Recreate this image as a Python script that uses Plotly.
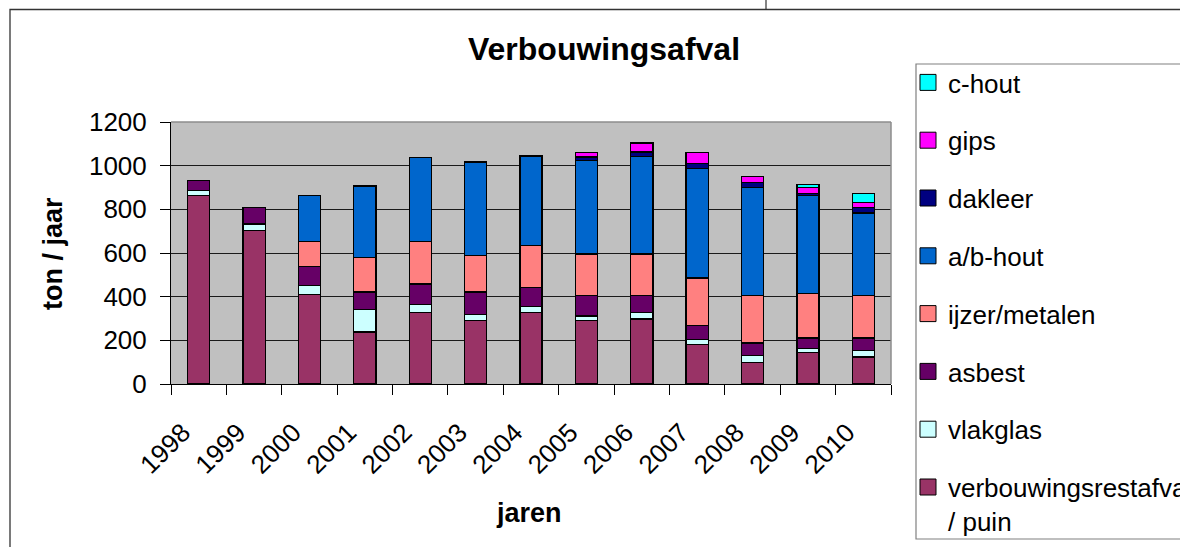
import plotly.graph_objects as go

# ---------------- data ----------------
years = ["1998", "1999", "2000", "2001", "2002", "2003", "2004",
         "2005", "2006", "2007", "2008", "2009", "2010"]

puin      = [863, 702, 411, 238, 327, 290, 327, 290, 298, 180,  99, 143, 124]
vlakglas  = [ 24,  31,  39, 102,  36,  29,  29,  21,  30,  23,  31,  20,  29]
asbest    = [ 44,  75,  89,  81,  95, 102,  87,  95,  78,  64,  58,  48,  58]
ijzer     = [None, None, 113, 159, 194, 167, 191, 190, 190, 219, 216, 203, 193]
abhout    = [None, None, 212, 327, 386, 429, 410, 427, 447, 502, 495, 449, 379]
dakleer   = [None, None, None, None, None, None, None, 17, 20, 21, 25,  9, 25]
gips      = [None, None, None, None, None, None, None, 20, 41, 52, 27, 27, 22]
chout     = [None, None, None, None, None, None, None, None, None, None, None, 16, 42]

series_names = ["verbouwingsrestafval<br>/ puin", "vlakglas", "asbest",
                "ijzer/metalen", "a/b-hout", "dakleer", "gips", "c-hout"]
series_values = [puin, vlakglas, asbest, ijzer, abhout, dakleer, gips, chout]
series_colors = ["#993366", "#CCFFFF", "#660066", "#FF8080",
                 "#0066CC", "#000080", "#FF00FF", "#00FFFF"]

y_ticks = [0, 200, 400, 600, 800, 1000, 1200]

# ---------------- geometry helpers ----------------
W_FIG, H_FIG = 1180, 547
L, R, T, B = 171, 891, 122, 384


def px(x):
    return (x - L) / (R - L)


def py(y):
    return (B - y) / (B - T)


FONT = "Liberation Sans, Arial, sans-serif"

fig = go.Figure()

for name, vals, col in zip(series_names, series_values, series_colors):
    fig.add_trace(go.Bar(
        x=years, y=vals, name=name.replace("<br>", " "),
        marker=dict(color=col, line=dict(color="black", width=1.3)),
        showlegend=False,
    ))

# legend entries (squares), top entry first
legend_items = list(zip(series_names, series_colors))[::-1]
for i, (name, col) in enumerate(legend_items):
    fig.add_trace(go.Scatter(
        x=[None], y=[None], mode="markers", name=name,
        legendgroup="g%d" % i,
        marker=dict(symbol="square", size=16, color=col,
                    line=dict(color="black", width=1)),
        showlegend=True, hoverinfo="skip",
    ))

shapes = [
    # outer chart frame
    dict(type="rect", xref="paper", yref="paper",
         x0=px(10), x1=px(1220), y0=py(580), y1=py(9.5),
         line=dict(color="#333333", width=1.3), layer="above"),
    dict(type="line", xref="paper", yref="paper",
         x0=px(766), x1=px(766), y0=py(-5), y1=py(9.5),
         line=dict(color="#333333", width=1.2)),
    # legend box
    dict(type="rect", xref="paper", yref="paper",
         x0=px(916), x1=px(1220), y0=py(539), y1=py(64),
         line=dict(color="#808080", width=1.2), fillcolor="white", layer="above"),
    # plot area top & right gray edges
    dict(type="line", xref="paper", yref="paper",
         x0=0, x1=1, y0=1, y1=1, line=dict(color="#8c8c8c", width=1.5), layer="above"),
    dict(type="line", xref="paper", yref="paper",
         x0=1, x1=1, y0=0, y1=1, line=dict(color="#8c8c8c", width=1.5), layer="above"),
]

annotations = [
    dict(text="<b>jaren</b>", xref="paper", yref="paper",
         x=px(529), y=py(513), xanchor="center", yanchor="middle",
         showarrow=False, font=dict(family=FONT, size=27, color="black")),
    dict(text="<b>ton / jaar</b>", xref="paper", yref="paper",
         x=px(53), y=py(254), xanchor="center", yanchor="middle",
         textangle=-90, showarrow=False,
         font=dict(family=FONT, size=27, color="black")),
]

fig.update_layout(
    width=W_FIG, height=H_FIG,
    barmode="stack", bargap=0.6,
    plot_bgcolor="#C0C0C0", paper_bgcolor="white",
    margin=dict(l=L, r=W_FIG - R, t=T, b=H_FIG - B, autoexpand=False),
    font=dict(family=FONT, color="black"),
    title=dict(text="<b>Verbouwingsafval</b>", xref="container", yref="container",
               x=604 / W_FIG, y=1 - 49 / H_FIG, xanchor="center", yanchor="middle",
               font=dict(family=FONT, size=32, color="black")),
    showlegend=True,
    legend=dict(x=px(916), y=py(59), xanchor="left", yanchor="top",
                bgcolor="rgba(0,0,0,0)", borderwidth=0,
                font=dict(family=FONT, size=26, color="black"),
                traceorder="grouped", tracegroupgap=21,
                valign="top", itemwidth=30, indentation=-8,
                maxheight=540),
    shapes=shapes,
    annotations=annotations,
)

fig.update_xaxes(
    type="category", tickson="boundaries", ticks="outside", ticklen=10,
    tickcolor="black", tickwidth=1, showline=True, linecolor="black", linewidth=1,
    showgrid=False, tickangle=-45, tickfont=dict(family=FONT, size=26, color="black"),
    range=[-0.5, 12.5], ticklabelstandoff=22, ticklabelshift=-16,
)
fig.update_yaxes(
    range=[0, 1200], tickvals=y_ticks, ticks="outside", ticklen=10,
    tickcolor="black", tickwidth=1, showline=True, linecolor="black", linewidth=1,
    showgrid=True, gridcolor="#1a1a1a", gridwidth=1, zeroline=False,
    tickfont=dict(family=FONT, size=26, color="black"), ticklabelstandoff=8,
)

fig.write_html("out.html", config={"displayModeBar": False},
               post_script="document.body.style.margin='0px';")
